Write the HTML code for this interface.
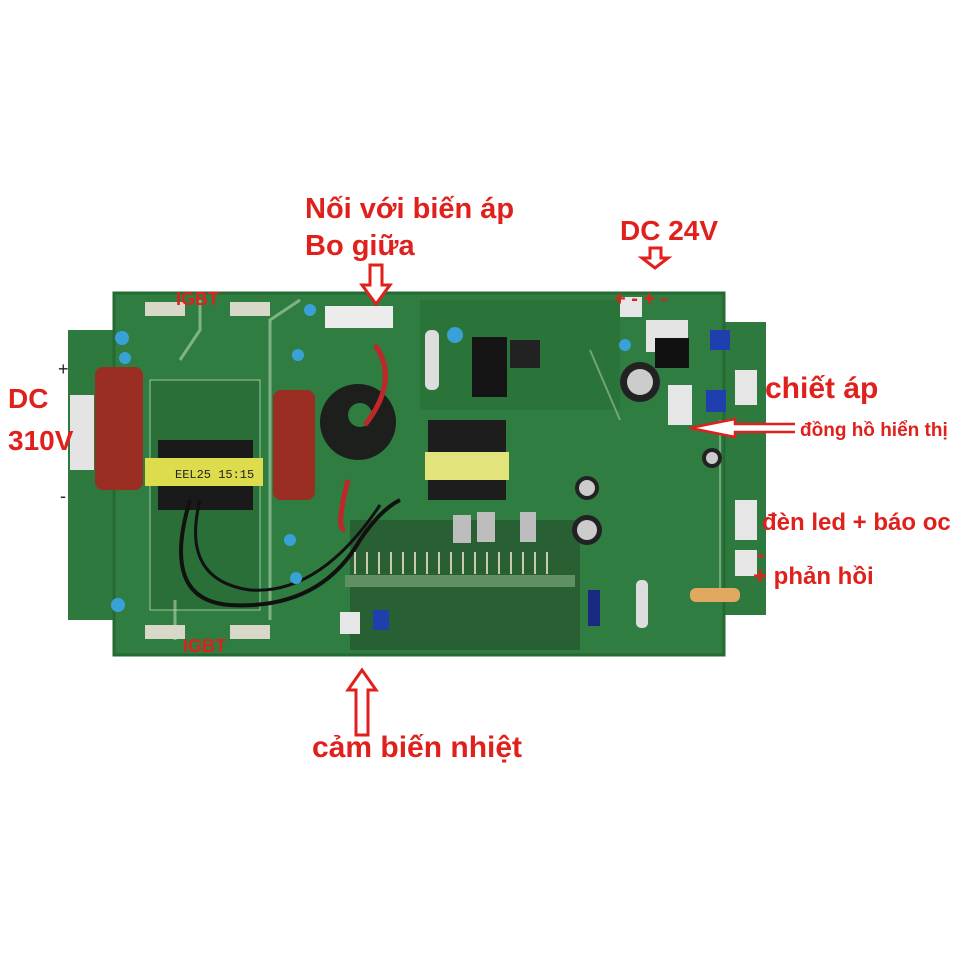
<!DOCTYPE html>
<html><head><meta charset="utf-8"><style>
html,body{margin:0;padding:0;background:#fff}
svg{display:block}
.t{font-family:"Liberation Sans",sans-serif;font-weight:bold;fill:#e0201c}
</style></head><body>
<svg width="957" height="957" viewBox="0 0 957 957" xmlns="http://www.w3.org/2000/svg">
<rect width="957" height="957" fill="#fff"/>
<rect x="68" y="330" width="60" height="290" fill="#2e7a3e"/>
<rect x="700" y="322" width="66" height="293" fill="#2e7a3e"/>
<rect x="114" y="293" width="610" height="362" fill="#2f7d40"/>
<rect x="114" y="293" width="610" height="362" fill="none" stroke="#246a32" stroke-width="3"/>
<rect x="150" y="380" width="110" height="230" fill="#2a6f38" stroke="#9cc7a0" stroke-width="1"/>
<rect x="350" y="520" width="230" height="130" fill="#285f33"/>
<rect x="420" y="300" width="200" height="110" fill="#2a7339"/>
<path d="M200 300 L200 330 L180 360 M175 600 L175 640 M300 300 L270 320 L270 620" stroke="#b9d4b8" stroke-width="3" fill="none" opacity=".6"/>
<path d="M720 420 L720 600 M590 350 L620 420" stroke="#b9d4b8" stroke-width="2" fill="none" opacity=".5"/>
<g fill="#d8d8c8"><rect x="145" y="302" width="40" height="14"/><rect x="230" y="302" width="40" height="14"/><rect x="145" y="625" width="40" height="14"/><rect x="230" y="625" width="40" height="14"/></g>
<rect x="70" y="395" width="24" height="75" fill="#e4e4e4"/>
<rect x="95" y="367" width="48" height="123" rx="8" fill="#9a2e22"/>
<rect x="273" y="390" width="42" height="110" rx="8" fill="#9a2e22"/>
<rect x="158" y="440" width="95" height="70" fill="#1a1a1a"/>
<rect x="145" y="458" width="118" height="28" fill="#dcdc4c"/>
<text x="175" y="478" font-family="Liberation Mono,monospace" font-size="12" fill="#222">EEL25 15:15</text>
<circle cx="358" cy="422" r="38" fill="#1c1f1c"/><circle cx="360" cy="415" r="12" fill="#2f7d40"/>
<path d="M375 345 Q400 380 365 425 M348 480 Q335 530 345 530" stroke="#c0262a" stroke-width="5" fill="none"/>
<path d="M190 500 Q160 600 230 605 Q320 610 360 540 Q380 510 400 500" stroke="#111" stroke-width="4" fill="none"/>
<path d="M200 500 Q180 580 250 590 Q320 595 380 505" stroke="#111" stroke-width="3" fill="none"/>
<rect x="428" y="420" width="78" height="80" fill="#1d1d1d"/>
<rect x="425" y="452" width="84" height="28" fill="#e2e37a"/>
<rect x="325" y="306" width="68" height="22" fill="#ececec"/>
<rect x="472" y="337" width="35" height="60" fill="#151515"/>
<rect x="510" y="340" width="30" height="28" fill="#222"/>
<rect x="646" y="320" width="42" height="32" fill="#e4e4e4"/>
<rect x="655" y="338" width="34" height="30" fill="#111"/>
<circle cx="640" cy="382" r="20" fill="#222"/><circle cx="640" cy="382" r="13" fill="#ccc"/>
<circle cx="587" cy="530" r="15" fill="#222"/><circle cx="587" cy="530" r="10" fill="#ccc"/>
<circle cx="587" cy="488" r="12" fill="#222"/><circle cx="587" cy="488" r="8" fill="#ccc"/>
<circle cx="712" cy="458" r="10" fill="#222"/><circle cx="712" cy="458" r="6" fill="#ccc"/>
<g fill="#e6e6e6"><rect x="620" y="297" width="22" height="20"/><rect x="735" y="370" width="22" height="35"/><rect x="668" y="385" width="24" height="40"/><rect x="735" y="500" width="22" height="40"/><rect x="735" y="550" width="22" height="26"/><rect x="340" y="612" width="20" height="22"/></g>
<g fill="#1f3fae"><rect x="710" y="330" width="20" height="20"/><rect x="706" y="390" width="20" height="22"/><rect x="373" y="610" width="16" height="20"/></g>
<rect x="345" y="575" width="230" height="12" fill="#5f8f63"/>
<g stroke="#c9c9b0" stroke-width="2"><path d="M355 552v22M367 552v22M379 552v22M391 552v22M403 552v22M415 552v22M427 552v22M439 552v22M451 552v22M463 552v22M475 552v22M487 552v22M499 552v22M511 552v22M523 552v22M535 552v22M547 552v22"/></g>
<g fill="#bdbdbd"><rect x="453" y="515" width="18" height="28"/><rect x="477" y="512" width="18" height="30"/><rect x="520" y="512" width="16" height="30"/></g>
<g fill="#3aa0d8"><circle cx="122" cy="338" r="7"/><circle cx="125" cy="358" r="6"/><circle cx="118" cy="605" r="7"/><circle cx="290" cy="540" r="6"/><circle cx="296" cy="578" r="6"/><circle cx="310" cy="310" r="6"/><circle cx="298" cy="355" r="6"/><circle cx="455" cy="335" r="8"/><circle cx="625" cy="345" r="6"/></g>
<rect x="425" y="330" width="14" height="60" rx="6" fill="#ddd"/>
<rect x="690" y="588" width="50" height="14" rx="6" fill="#e0a860"/>
<rect x="636" y="580" width="12" height="48" rx="5" fill="#ddd"/>
<rect x="588" y="590" width="12" height="36" fill="#1a2a80"/>
<g fill="#fff" stroke="#e0201c" stroke-width="3">
<path d="M370 265 H382 V285 H390 L376 304 L362 285 H370 Z"/>
<path d="M650 248 H661 V258 H668 L655 268 L642 258 H650 Z"/>
<path d="M356 735 H368 V690 H376 L362 670 L348 690 H356 Z"/>
<path d="M795 424 L735 424 L735 419 L690 428 L735 437 L735 432 L795 432" stroke-width="2.5"/>
</g>
<text class="t" x="305" y="218" font-size="29">Nối với biến áp</text>
<text class="t" x="305" y="255" font-size="29">Bo giữa</text>
<text class="t" x="620" y="240" font-size="28">DC 24V</text>
<text class="t" x="614" y="305" font-size="20">+ -  + -</text>
<text class="t" x="8" y="408" font-size="28">DC</text>
<text class="t" x="8" y="450" font-size="28">310V</text>
<text x="58" y="375" font-family="Liberation Sans,sans-serif" font-size="18" fill="#222">+</text>
<text x="60" y="502" font-family="Liberation Sans,sans-serif" font-size="18" fill="#222">-</text>
<text class="t" x="765" y="398" font-size="30">chiết áp</text>
<text class="t" x="800" y="436" font-size="19">đồng hồ hiển thị</text>
<text class="t" x="762" y="530" font-size="24">đèn led + báo oc</text>
<text class="t" x="757" y="562" font-size="22">-</text>
<text class="t" x="753" y="584" font-size="24">+ phản hồi</text>
<text class="t" x="312" y="757" font-size="30">cảm biến nhiệt</text>
<text class="t" x="176" y="305" font-size="18">IGBT</text>
<text class="t" x="183" y="652" font-size="18">IGBT</text>
</svg>
</body></html>
